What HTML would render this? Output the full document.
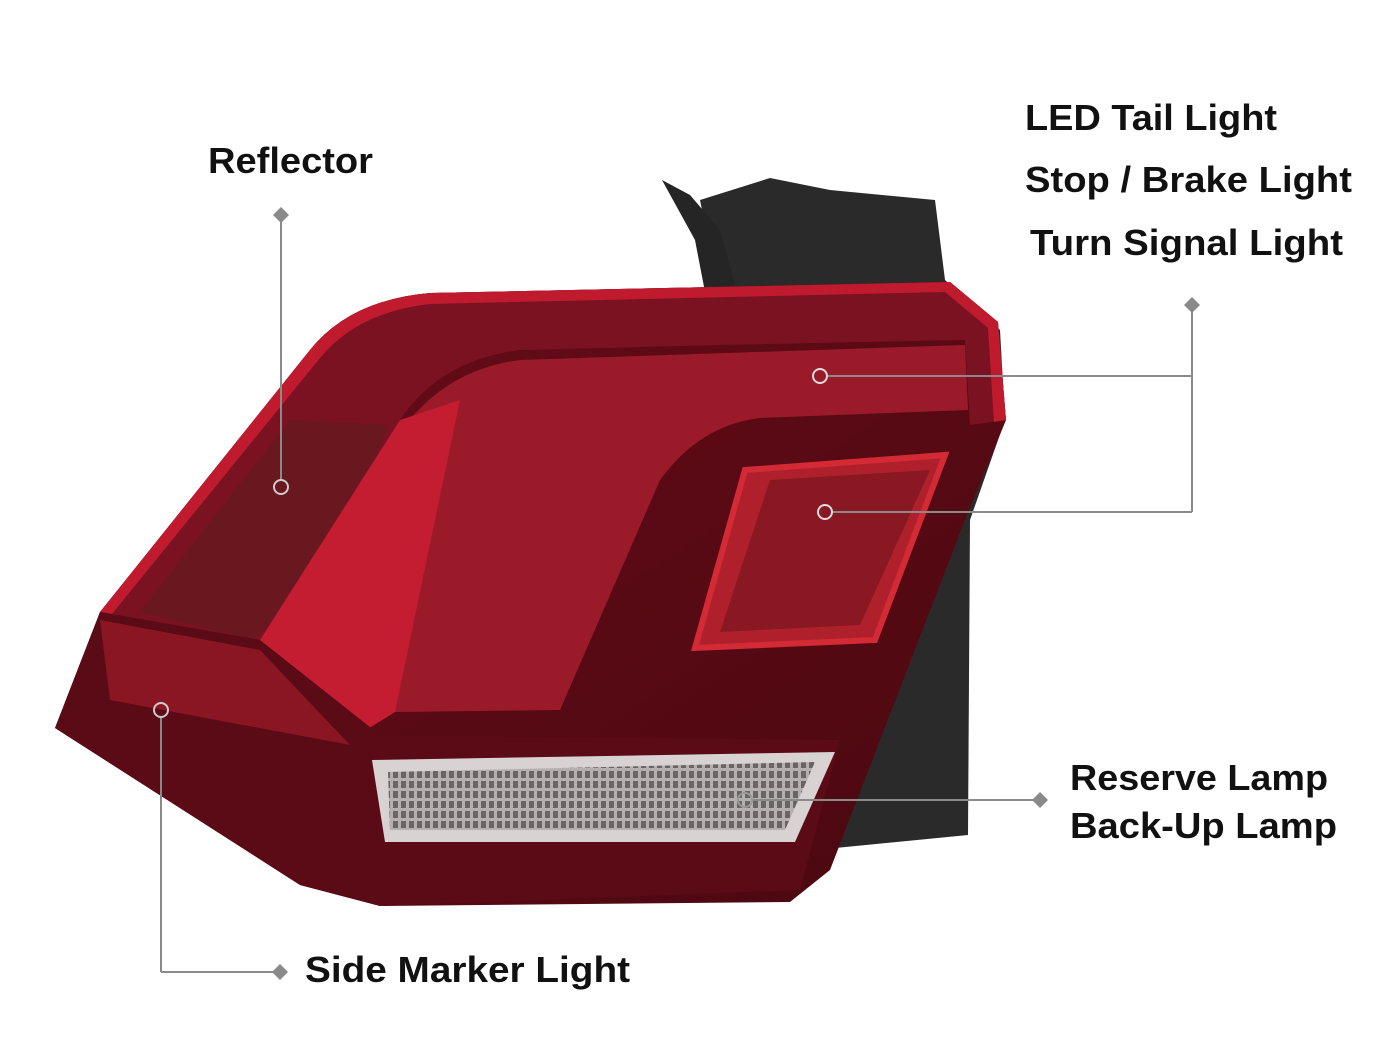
<!DOCTYPE html>
<html><head><meta charset="utf-8"><style>
html,body{margin:0;padding:0;background:#fff;}
svg{display:block}
text{font-family:"Liberation Sans",sans-serif;font-weight:bold;font-size:36px;fill:#111;}
</style></head><body>
<svg width="1400" height="1050" viewBox="0 0 1400 1050" xmlns="http://www.w3.org/2000/svg">
<defs>
<linearGradient id="g1" x1="0" y1="0" x2="1" y2="1">
<stop offset="0" stop-color="#6a0c18"/><stop offset="1" stop-color="#4a0810"/></linearGradient>
<pattern id="pt" width="8" height="10" patternUnits="userSpaceOnUse">
<rect width="8" height="10" fill="#b5b0b0"/><rect x="1" y="1" width="5" height="7" fill="#6a6464"/></pattern>
</defs>
<polygon points="700,200 770,178 830,190 935,200 945,280 1000,330 1005,420 970,520 968,835 815,850 800,700" fill="#2b2a2b"/>
<polygon points="662,180 690,195 720,230 735,285 705,292 695,240" fill="#262526"/>
<path d="M55,728 L100,612 L310,350 Q350,300 430,293 L950,282 L998,322 L1006,420 L965,520 L830,870 L790,902 L380,906 L300,885 Z" fill="url(#g1)"/>
<path d="M100,612 L310,350 Q350,300 430,293 L950,282 L998,322 L1006,420 L970,425 L965,340 L720,345 L520,350 Q440,360 400,420 L260,640 L100,612 Z" fill="#7a1222"/>
<path d="M100,612 L310,350 Q350,300 430,293 L950,282 L998,322 L1006,420 L994,422 L988,328 L945,292 L430,304 Q358,312 320,358 L112,614 Z" fill="#c01a2e"/>
<path d="M395,440 Q440,370 520,360 L965,345 L968,410 L760,418 Q700,425 660,480 L560,710 L395,712 Z" fill="#9a1a2a"/>
<polygon points="140,612 290,420 390,425 330,560 255,640" fill="#6a1820"/>
<polygon points="260,640 400,420 460,400 395,712 350,740 255,680" fill="#c41c30"/>
<polygon points="745,470 945,455 875,640 695,648" fill="#b0202c" stroke="#d42a36" stroke-width="6"/>
<polygon points="770,480 930,470 860,625 720,632" fill="#8a1822"/>
<path d="M55,728 L100,612 L260,640 L380,735 L840,740 L800,890 L380,906 L300,885 Z" fill="#5a0b15"/>
<polygon points="100,620 260,650 350,745 110,700" fill="#8a1624"/>
<polygon points="372,760 835,752 795,842 385,842" fill="#d8d2d2"/>
<polygon points="388,772 815,762 785,830 390,830" fill="url(#pt)"/>
<g stroke="#8a8a8a" stroke-width="2" fill="none">
<line x1="281" y1="222" x2="281" y2="480"/>
<circle cx="281" cy="487" r="7" stroke="#ccc"/>
<line x1="828" y1="376" x2="1192" y2="376"/>
<line x1="832" y1="512" x2="1192" y2="512"/>
<line x1="1192" y1="312" x2="1192" y2="512"/>
<circle cx="820" cy="376" r="7" stroke="#ddd"/>
<circle cx="825" cy="512" r="7" stroke="#ddd"/>
<line x1="752" y1="800" x2="1033" y2="800"/>
<circle cx="745" cy="800" r="7" stroke="#999"/>
<line x1="161" y1="717" x2="161" y2="972"/>
<line x1="161" y1="972" x2="273" y2="972"/>
<circle cx="161" cy="710" r="7" stroke="#ccc"/>
</g>
<g fill="#8a8a8a">
<polygon points="281,207 289,215 281,223 273,215"/>
<polygon points="1192,297 1200,305 1192,313 1184,305"/>
<polygon points="1040,792 1048,800 1040,808 1032,800"/>
<polygon points="280,964 288,972 280,980 272,972"/>
</g>
<text x="208" y="173" textLength="165" lengthAdjust="spacingAndGlyphs">Reflector</text>
<text x="1025" y="130" textLength="252" lengthAdjust="spacingAndGlyphs">LED Tail Light</text>
<text x="1025" y="192" textLength="327" lengthAdjust="spacingAndGlyphs">Stop / Brake Light</text>
<text x="1030" y="255" textLength="313" lengthAdjust="spacingAndGlyphs">Turn Signal Light</text>
<text x="1070" y="790" textLength="258" lengthAdjust="spacingAndGlyphs">Reserve Lamp</text>
<text x="1070" y="838" textLength="267" lengthAdjust="spacingAndGlyphs">Back-Up Lamp</text>
<text x="305" y="982" textLength="325" lengthAdjust="spacingAndGlyphs">Side Marker Light</text>
</svg>
</body></html>
